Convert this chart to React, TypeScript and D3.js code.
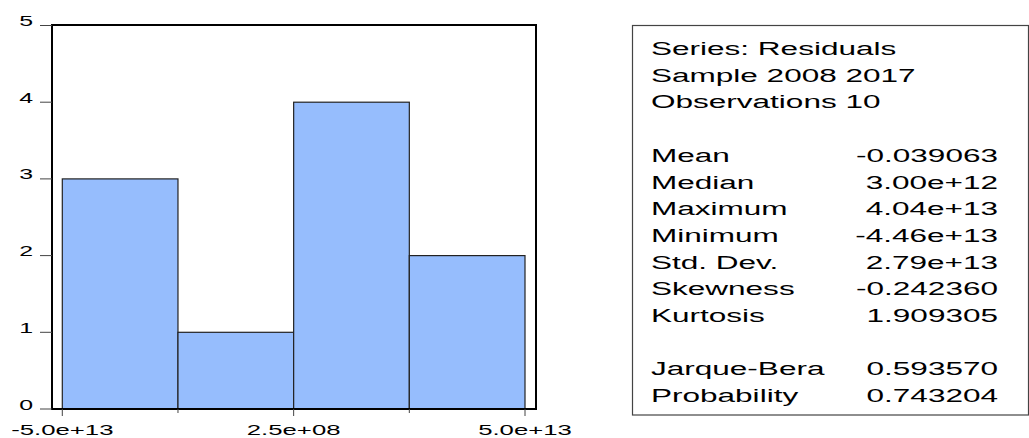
import React from 'react';
import * as d3 from 'd3';

// histogram of residuals
const binEdges = [-5e13, -2.5e13, 2.5e8, 2.5e13, 5e13];
const binCounts = [3, 1, 4, 2];
const xMajorTicks = [-5e13, 2.5e8, 5e13];
const xTickLabels = ['-5.0e+13', '2.5e+08', '5.0e+13'];
const xMinorTicks = [-2.5e13, 2.5e13];
const yTicks = [0, 1, 2, 3, 4, 5];

// stats panel
const headerLines = ['Series: Residuals', 'Sample 2008 2017', 'Observations 10'];
const statNames = ['Mean', 'Median', 'Maximum', 'Minimum', 'Std. Dev.', 'Skewness', 'Kurtosis'];
const statValues = ['-0.039063', '3.00e+12', '4.04e+13', '-4.46e+13', '2.79e+13', '-0.242360', '1.909305'];
const testNames = ['Jarque-Bera', 'Probability'];
const testValues = ['0.593570', '0.743204'];

const FONT = '"Liberation Sans", Arial, sans-serif';
const SX = 1.66; // the source image is stretched sideways

const W = 1029;
const H = 438;
const frame = { left: 52, right: 536, top: 25, bottom: 409 };

const StretchText: React.FC<{ x: number; y: number; size: number; anchor?: string; children: React.ReactNode }> = ({ x, y, size, anchor = 'start', children }) => (
  <text transform={`translate(${x},${y}) scale(${SX},1)`} fontSize={size} fontFamily={FONT} textAnchor={anchor} fill="#000">
    {children}
  </text>
);

const App: React.FC = () => {
  const x = d3.scaleLinear().domain([-5e13, 5e13]).range([62.3, 525]);
  const y = d3.scaleLinear().domain([0, 5]).range([frame.bottom, 25.5]);

  const bins = binCounts.map((c, i) => ({ x0: binEdges[i], x1: binEdges[i + 1], count: c }));

  const lineH = 26.7;
  const rows: { label: string; value: string }[] = [
    ...headerLines.map(l => ({ label: l, value: '' })),
    { label: '', value: '' },
    ...statNames.map((n, i) => ({ label: n, value: statValues[i] })),
    { label: '', value: '' },
    ...testNames.map((n, i) => ({ label: n, value: testValues[i] })),
  ];

  return (
    <svg width={W} height={H} style={{ position: 'absolute', left: 0, top: 0, background: '#fff' }}>
      {/* bars */}
      {bins.map((b, i) => (
        <rect
          key={i}
          x={x(b.x0)}
          y={y(b.count)}
          width={x(b.x1) - x(b.x0)}
          height={y(0) - y(b.count)}
          fill="#96bdfd"
          stroke="#222"
          strokeWidth={1.2}
        />
      ))}

      {/* frame */}
      <rect x={frame.left} y={frame.top} width={frame.right - frame.left} height={frame.bottom - frame.top} fill="none" stroke="#000" strokeWidth={2} />

      {/* y axis */}
      {yTicks.map(t => (
        <g key={t}>
          <line x1={40} x2={frame.left} y1={y(t)} y2={y(t)} stroke="#444" strokeWidth={1} />
          <StretchText x={33} y={y(t) + 0.5} size={15} anchor="end">{t}</StretchText>
        </g>
      ))}

      {/* x axis */}
      {xMajorTicks.map((t, i) => (
        <g key={i}>
          <line x1={x(t)} x2={x(t)} y1={frame.bottom} y2={416} stroke="#444" strokeWidth={1} />
          <StretchText x={x(t)} y={435} size={15.5} anchor="middle">{xTickLabels[i]}</StretchText>
        </g>
      ))}
      {xMinorTicks.map((t, i) => (
        <line key={i} x1={x(t)} x2={x(t)} y1={frame.bottom} y2={413} stroke="#444" strokeWidth={1} />
      ))}

      {/* stats box */}
      <rect x={632.5} y={25.5} width={396} height={389.5} fill="#fff" stroke="#444" strokeWidth={1.2} />
      {rows.map((r, i) => (
        <g key={i}>
          {r.label && <StretchText x={651} y={55 + i * lineH} size={19}>{r.label}</StretchText>}
          {r.value && <StretchText x={998} y={55 + i * lineH} size={19} anchor="end">{r.value}</StretchText>}
        </g>
      ))}
    </svg>
  );
};

export default App;
